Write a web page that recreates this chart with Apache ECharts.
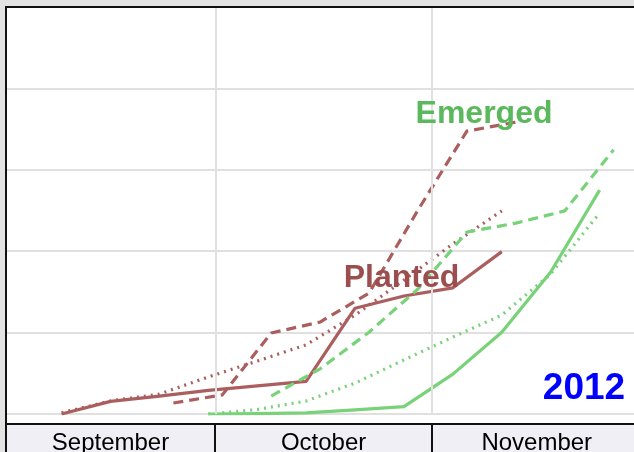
<!DOCTYPE html>
<html>
<head>
<meta charset="utf-8">
<script src="https://cdn.jsdelivr.net/npm/echarts@6/dist/echarts.min.js"></script>
<style>
html,body{margin:0;padding:0;background:#fff;}
#chart{width:634px;height:452px;}
</style>
</head>
<body>
<div id="chart"></div>
<script>
// ---- data ----
const monthNames = ['September', 'October', 'November'];
const monthBounds = ['2012-09-01', '2012-10-01', '2012-11-01', '2012-12-01'];

// weekly report dates (this year / 5-yr average) and last year's dates on this year's calendar
const weeksThisYear = ['2012-09-09','2012-09-16','2012-09-23','2012-09-30','2012-10-07','2012-10-14',
                       '2012-10-21','2012-10-28','2012-11-04','2012-11-11','2012-11-18','2012-11-25'];
const weeksLastYear = ['2012-09-11','2012-09-18','2012-09-25','2012-10-02','2012-10-09','2012-10-16',
                       '2012-10-23','2012-10-30','2012-11-06','2012-11-13','2012-11-20','2012-11-27'];

const plantedThisYearDates = weeksThisYear.slice(0, 10);
const plantedThisYear      = [0, 3.1, 4.4, 5.8, 6.9, 8.0, 26.0, 29.0, 31.0, 39.9];
const plantedLastYearDates = weeksLastYear.slice(2, 10);
const plantedLastYear      = [2.7, 4.7, 19.9, 22.6, 29.7, 50.1, 69.5, 71.7];
const plantedAvgDates      = weeksThisYear.slice(0, 10);
const plantedAvg           = [0.3, 3.2, 4.9, 9.1, 13.0, 17.0, 24.3, 32.9, 41.8, 49.9];

const emergedThisYearDates = weeksThisYear.slice(3, 12);
const emergedThisYear      = [0, 0.1, 0.3, 1.0, 1.8, 9.8, 20.1, 34.9, 55.0];
const emergedLastYearDates = weeksLastYear.slice(4, 12);
const emergedLastYear      = [4.4, 11.1, 20.1, 30.7, 44.7, 46.9, 49.9, 64.9];
const emergedAvgDates      = weeksThisYear.slice(3, 12);
const emergedAvg           = [0, 1.1, 3.2, 7.6, 13.3, 18.9, 24.3, 34.4, 49.4];

const yTicks = [0, 20, 40, 60, 80, 100];
const yearLabel = '2012';
const plantedLabel = 'Planted';
const emergedLabel = 'Emerged';

// ---- chart ----
const FONT = '"Liberation Sans", Arial, sans-serif';
const BROWN = '#ab5e5e';
const BROWN_TEXT = '#9c4e4e';
const GREEN = '#78d278';
const GREEN_TEXT = '#5cb85c';

function ts(s) { const p = s.split('-').map(Number); return new Date(p[0], p[1] - 1, p[2]).getTime(); }
function pairs(dates, vals) { return dates.map((d, i) => [ts(d), vals[i]]); }

const xMin = ts(monthBounds[0]);
const xMax = xMin + 89.92 * 86400000;

const chart = echarts.init(document.getElementById('chart'), null, {renderer: 'canvas'});

function lineSeries(name, data, color, type) {
  return {
    name: name, type: 'line', data: data, symbol: 'none', silent: true,
    lineStyle: {color: color, width: 3.2, type: type, cap: 'butt', join: 'round'},
    z: 3
  };
}

const series = [
  lineSeries('Planted avg', pairs(plantedAvgDates, plantedAvg), BROWN, [2, 5]),
  lineSeries('Planted last year', pairs(plantedLastYearDates, plantedLastYear), BROWN, [10, 6]),
  lineSeries('Planted 2012', pairs(plantedThisYearDates, plantedThisYear), BROWN, 'solid'),
  lineSeries('Emerged avg', pairs(emergedAvgDates, emergedAvg), GREEN, [2, 5]),
  lineSeries('Emerged last year', pairs(emergedLastYearDates, emergedLastYear), GREEN, [10, 6]),
  lineSeries('Emerged 2012', pairs(emergedThisYearDates, emergedThisYear), GREEN, 'solid')
];
// vertical month grid lines
series.push({
  type: 'line', data: [], silent: true, z: 1,
  markLine: {
    silent: true, symbol: ['none', 'none'], label: {show: false}, animation: false,
    lineStyle: {color: '#e0e0e0', width: 2, type: 'solid'},
    data: monthBounds.slice(1, 3).map(d => ({xAxis: ts(d)}))
  }
});

chart.setOption({
  animation: false,
  backgroundColor: '#ffffff',
  grid: {left: 5.7, right: 0, top: 7, bottom: 38, containLabel: false},
  xAxis: {
    type: 'time', min: xMin, max: xMax,
    axisLine: {show: false}, axisTick: {show: false}, axisLabel: {show: false}, splitLine: {show: false}
  },
  yAxis: {
    type: 'value', min: yTicks[0], max: yTicks[yTicks.length - 1], interval: yTicks[1] - yTicks[0],
    axisLine: {show: false}, axisTick: {show: false}, axisLabel: {show: false},
    splitLine: {show: true, lineStyle: {color: '#e0e0e0', width: 2}}
  },
  series: series
});

// ---- frame, month band and text labels ----
const px = d => chart.convertToPixel({xAxisIndex: 0}, ts(d));
const W = 634, H = 452;
const g = [];
g.push({type: 'rect', shape: {x: 0, y: 0, width: W, height: 6}, style: {fill: '#e3e3e3'}, z: 10});
g.push({type: 'rect', shape: {x: 0, y: 0, width: 5, height: H}, style: {fill: '#e3e3e3'}, z: 10});
g.push({type: 'rect', shape: {x: 5, y: 6, width: W - 5, height: 2}, style: {fill: '#111111'}, z: 11});
g.push({type: 'rect', shape: {x: 5, y: 6, width: 2, height: H - 6}, style: {fill: '#111111'}, z: 11});
g.push({type: 'rect', shape: {x: 7, y: 424, width: W - 7, height: H - 424}, style: {fill: '#efeff5'}, z: 10});
g.push({type: 'rect', shape: {x: 5, y: 423, width: W - 5, height: 2}, style: {fill: '#111111'}, z: 11});
for (let i = 1; i < 3; i++) {
  const x = px(monthBounds[i]);
  g.push({type: 'rect', shape: {x: Math.round(x) - 1, y: 424, width: 2, height: H - 424}, style: {fill: '#111111'}, z: 11});
}
for (let i = 0; i < monthNames.length; i++) {
  const cx = (px(monthBounds[i]) + px(monthBounds[i + 1])) / 2;
  g.push({type: 'text', x: cx, y: 443.5, z: 12,
    style: {text: monthNames[i], fill: '#000', font: '24px ' + FONT, textAlign: 'center', textVerticalAlign: 'middle'}});
}
g.push({type: 'text', x: 484, y: 114, z: 12,
  style: {text: emergedLabel, fill: GREEN_TEXT, font: 'bold 32px ' + FONT, textAlign: 'center', textVerticalAlign: 'middle'}});
g.push({type: 'text', x: 401.5, y: 278, z: 12,
  style: {text: plantedLabel, fill: BROWN_TEXT, font: 'bold 32px ' + FONT, textAlign: 'center', textVerticalAlign: 'middle'}});
g.push({type: 'text', x: 584, y: 388.5, z: 12,
  style: {text: yearLabel, fill: '#0000ff', font: 'bold 37px ' + FONT, textAlign: 'center', textVerticalAlign: 'middle'}});

chart.setOption({graphic: {elements: g}});
</script>
</body>
</html>
